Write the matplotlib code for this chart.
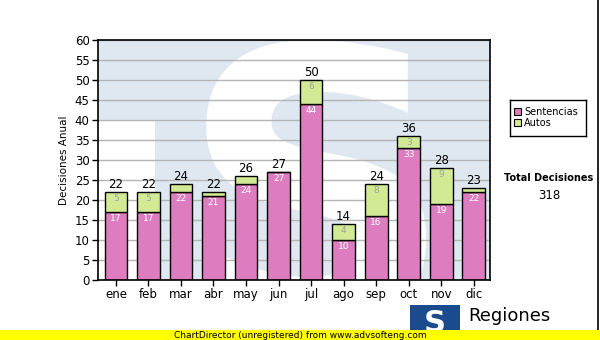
import matplotlib
matplotlib.use("Agg")
import matplotlib.pyplot as plt
from matplotlib.patches import Rectangle
import numpy as np

months = ["ene", "feb", "mar", "abr", "may", "jun", "jul", "ago", "sep", "oct", "nov", "dic"]
sentencias = [17, 17, 22, 21, 24, 27, 44, 10, 16, 33, 19, 22]
autos = [5, 5, 2, 1, 2, 0, 6, 4, 8, 3, 9, 1]
yticks = list(range(0, 61, 5))
total_label = "Total Decisiones"
total_value = "318"

pink = "#dd7cbf"
green = "#d3ea94"

fig = plt.figure(figsize=(6, 3.4), dpi=100)
fig.patch.set_facecolor("white")
ax = fig.add_axes([98/600, 1-280/340, (490-98)/600, 240/340])

x = np.arange(len(months))
ax.set_xlim(-0.55, 11.5)
ax.set_ylim(0, 60)

# watermark background
ax.set_facecolor("#dfe8f1")
ax.add_patch(Rectangle((-0.55, 0), 1.75, 40, facecolor="white", edgecolor="none", zorder=0.1))
ax.text(6.15, -11, "S", fontsize=275, fontweight="bold", color="white", ha="center", va="baseline",
        family="DejaVu Sans", zorder=0.2, clip_on=True)

ax.grid(axis="y", color="#b4b4b4", linewidth=1, zorder=0.5)
ax.set_axisbelow(True)

w = 0.7
ax.bar(x, sentencias, width=w, color=pink, edgecolor="black", linewidth=1, zorder=2)
ax.bar(x, autos, width=w, bottom=sentencias, color=green, edgecolor="black", linewidth=1, zorder=2)

for i in range(len(months)):
    s = sentencias[i]
    a = autos[i]
    tot = s + a
    ax.text(x[i], tot + 0.3, str(tot), ha="center", va="bottom", fontsize=8.5, color="black", zorder=3)
    if a >= 3:
        ax.text(x[i], tot - 0.6, str(a), ha="center", va="top", fontsize=6.5, color="#a0a0a0", zorder=3)
    ax.text(x[i], s - 0.6, str(s), ha="center", va="top", fontsize=6.5, color="white", zorder=3)

ax.set_xticks(x)
ax.set_xticklabels(months, fontsize=8.5)
ax.set_yticks(yticks)
ax.set_yticklabels([str(v) for v in yticks], fontsize=8.5)
ax.tick_params(length=4, width=1, pad=2)
for sp in ax.spines.values():
    sp.set_linewidth(1.2)
    sp.set_color("black")
ax.set_ylabel("Decisiones Anual", fontsize=7.5, labelpad=4)

# legend
lax = fig.add_axes([510/600, 1-136/340, 76/600, 36/340])
lax.set_xlim(0, 76); lax.set_ylim(36, 0)
lax.set_xticks([]); lax.set_yticks([])
for sp in lax.spines.values():
    sp.set_linewidth(1)
lax.add_patch(Rectangle((4, 8), 7, 7, facecolor=pink, edgecolor="black", linewidth=0.8))
lax.add_patch(Rectangle((4, 19), 7, 7, facecolor=green, edgecolor="black", linewidth=0.8))
lax.text(14, 11.5, "Sentencias", fontsize=7, va="center")
lax.text(14, 22.5, "Autos", fontsize=7, va="center")

fig.text(549/600, 1-178/340, total_label, fontsize=7, fontweight="bold", ha="center", va="center")
fig.text(549/600, 1-196/340, total_value, fontsize=8.5, ha="center", va="center")

# right border line
fig.add_artist(plt.Line2D([598/600, 598/600], [1-330/340, 1], color="black", linewidth=1.2))

# logo
fig.add_artist(Rectangle((410/600, 0), 50/600, 35/340, transform=fig.transFigure,
                         facecolor="#1a4b8c", edgecolor="none"))
fig.text(435/600, 17/340, "S", fontsize=22, fontweight="bold", color="white", ha="center", va="center")
fig.text(468/600, 1-316/340, "Regiones", fontsize=13, ha="left", va="center")

# yellow banner
fig.add_artist(Rectangle((0, 0), 1, 10/340, transform=fig.transFigure,
                         facecolor="#ffff00", edgecolor="none", zorder=5))
fig.text(300/600, 5/340, "ChartDirector (unregistered) from www.advsofteng.com", fontsize=6.5,
         ha="center", va="center", zorder=6)

fig.savefig("out.png", dpi=100)
